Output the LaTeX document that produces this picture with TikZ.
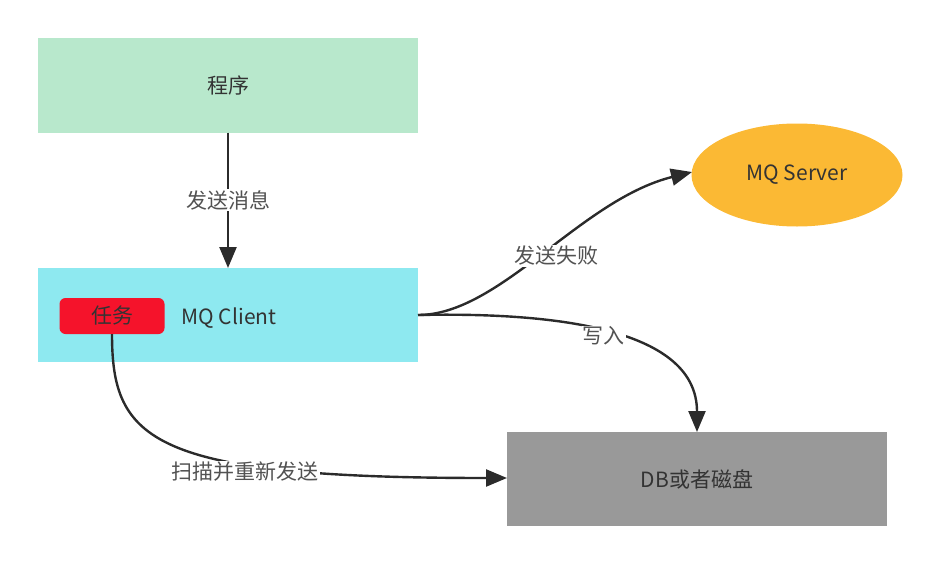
\documentclass[tikz,border=0pt]{standalone}
\usepackage{fontspec}
\newfontfamily\cjk{Noto Sans CJK SC}
\usetikzlibrary{arrows.meta,shapes.geometric}
\definecolor{progfill}{HTML}{B8E8CC}
\definecolor{clientfill}{HTML}{8EE9F0}
\definecolor{taskfill}{HTML}{F5132B}
\definecolor{serverfill}{HTML}{FBB934}
\definecolor{dbfill}{HTML}{999999}
\definecolor{textgray}{HTML}{333333}
\definecolor{linegray}{HTML}{2B2B2B}
\tikzset{
	box/.style={draw=none,inner sep=0,outer sep=0,text=textgray,font=\cjk\fontsize{21}{24}\selectfont},
	lbl/.style={fill=white,inner sep=1pt,text=textgray!85,font=\cjk\fontsize{21}{24}\selectfont},
	link/.style={draw=linegray,line width=2.4pt,-{Triangle[length=21pt,width=17pt]}}
}
\begin{document}
\begin{tikzpicture}[x=1pt,y=-1pt]
	\useasboundingbox (0,0) rectangle (942,565);
	\node[box,fill=progfill,minimum width=380,minimum height=95] (prog) at (228,85) {程序};
	\node[box,fill=clientfill,minimum width=380,minimum height=94] (client) at (228,315) {};
	\node[box,fill=taskfill,rounded corners=6pt,minimum width=105,minimum height=36] (task) at (112,316) {任务};
	\node[box] (clientname) at (229,318) {MQ Client};
	\node[box,ellipse,fill=serverfill,minimum width=211,minimum height=103] (server) at (797,175) {MQ Server};
	\node[box,fill=dbfill,minimum width=380,minimum height=94] (db) at (697,479) {DB或者磁盘};
	\coordinate (out) at (418,315);
	\coordinate (srvin) at (692,172);
	\coordinate (dbtop) at (697,432);
	\coordinate (dbleft) at (507,478);
	\draw[link] (prog.south) -- node[lbl] {发送消息} (client.north);
	\draw[link] (out) .. controls (500,315) and (580,200) .. node[lbl,pos=0.5,xshift=13pt,yshift=-2pt] {发送失败} (srvin);
	\draw[link] (out) .. controls (560,312) and (697,330) .. node[lbl,pos=0.6,xshift=-36pt,yshift=10pt] {写入} (dbtop);
	\draw[link] (task.south) .. controls (112,440) and (150,478) .. node[lbl,pos=0.65,xshift=8pt,yshift=-9pt] {扫描并重新发送} (dbleft);
\end{tikzpicture}
\end{document}
